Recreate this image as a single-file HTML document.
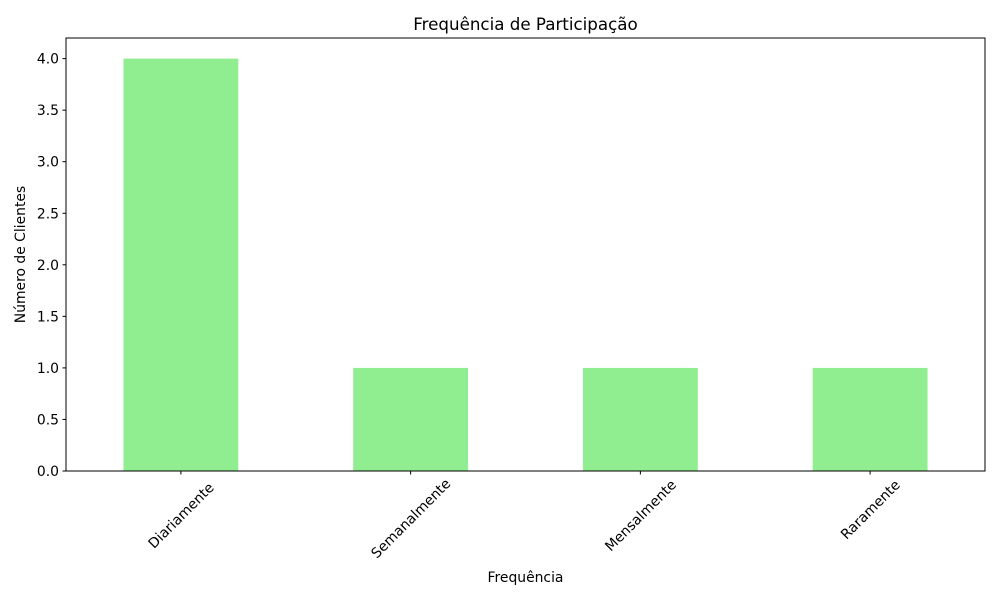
<!DOCTYPE html>
<html><head><meta charset="utf-8"><style>
body{margin:0;background:#fff;}
svg text{font-family:"DejaVu Sans","Liberation Sans",sans-serif;fill:#000;}
</style></head><body>
<svg id="chart" width="1000" height="600" viewBox="0 0 1000 600">
<rect width="1000" height="600" fill="#fff"/>
<text x="525.5" y="30" font-size="16.7" text-anchor="middle">Frequência de Participação</text>
<g id="marks"></g>
<g id="axes"></g>
<rect x="66" y="38" width="919" height="433" fill="none" stroke="#000" stroke-width="1"/>
<text x="525.5" y="582" font-size="13.9" text-anchor="middle">Frequência</text>
<text transform="translate(25,254.5) rotate(-90)" font-size="13.9" text-anchor="middle">Número de Clientes</text>
</svg>
<script>
const categories=["Diariamente","Semanalmente","Mensalmente","Raramente"];
const values=[4,1,1,1];
const yTicks=[0,0.5,1,1.5,2,2.5,3,3.5,4];
const yTickLabels=["0.0","0.5","1.0","1.5","2.0","2.5","3.0","3.5","4.0"];

const L=66,R=985,T=38,B=471,yMax=4.2;
const NS="http://www.w3.org/2000/svg";
function yS(v){return B-(v/yMax)*(B-T);}
function xS(i){return L+(i+0.5)*(R-L)/categories.length;}
const bw=0.5*(R-L)/categories.length;
const marks=document.getElementById('marks'),axes=document.getElementById('axes');
function mk(t,a){const e=document.createElementNS(NS,t);for(const k in a)e.setAttribute(k,a[k]);return e;}
values.forEach((v,i)=>{
 const r=mk('rect',{x:xS(i)-bw/2,y:yS(v),width:bw,height:B-yS(v),fill:'#90ee90'});
 
 
 marks.appendChild(r);
});
yTicks.forEach((t,i)=>{
 const y=yS(t);
 const l=mk('line',{x1:L-3.5,x2:L,y1:y,y2:y,stroke:'#000'});
 
 
 axes.appendChild(l);
 const tx=mk('text',{x:L-7,y:y+5,'font-size':13.9,'text-anchor':'end'});
 tx.textContent=yTickLabels[i];
 
 
 axes.appendChild(tx);
});
categories.forEach((c,i)=>{
 const x=xS(i);
 const l=mk('line',{x1:x,x2:x,y1:B,y2:B+3.5,stroke:'#000'});
 
 
 axes.appendChild(l);
 const half=c.length*4.15*0.707;
 const tx=mk('text',{transform:`translate(${x},${B+12+half}) rotate(-45)`,y:5,'font-size':13.9,'text-anchor':'middle'});
 tx.textContent=c;
 
 
 axes.appendChild(tx);
});
</script>
</body></html>
